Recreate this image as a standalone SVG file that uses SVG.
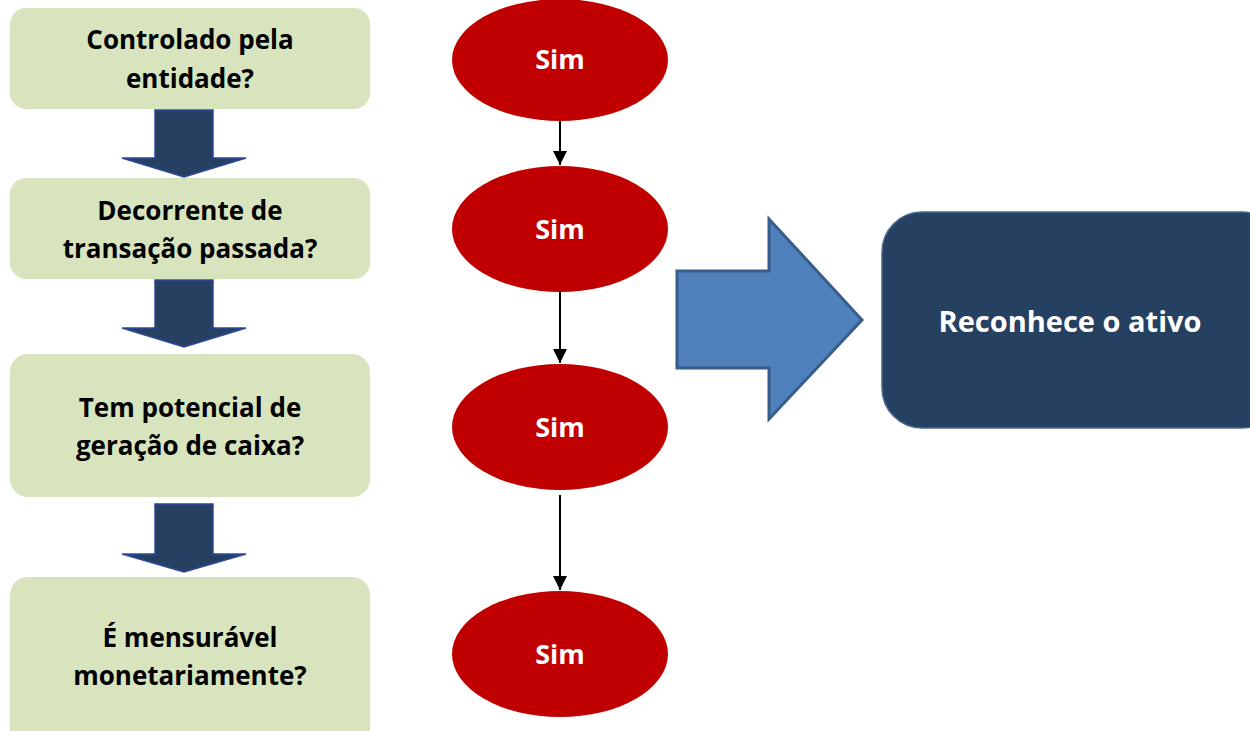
<svg xmlns="http://www.w3.org/2000/svg" width="1250" height="731" viewBox="0 0 1250 731">
<defs>
<style>
.box{fill:#D7E4BD;}
.q{font-family:"Open Sans","Liberation Sans",sans-serif;font-weight:bold;font-size:26px;fill:#000;text-anchor:middle;}
.ell{fill:#C00000;}
.sim{font-family:"Open Sans","Liberation Sans",sans-serif;font-weight:bold;font-size:27px;fill:#fff;text-anchor:middle;}
.down{fill:#264061;stroke:#2E4A9A;stroke-width:1.5;}
.conn{stroke:#000;stroke-width:2;fill:none;}
</style>
<marker id="ah" viewBox="0 0 10 10" refX="10" refY="5" markerWidth="7" markerHeight="7" markerUnits="strokeWidth" orient="auto">
<path d="M0,0 L10,5 L0,10 Z" fill="#000"/>
</marker>
</defs>
<rect width="1250" height="731" fill="#fff"/>

<g id="q1"><rect class="box" x="10" y="8" width="360" height="101" rx="16"/>
<text class="q" x="190" y="49">Controlado pela</text><text class="q" x="190" y="88">entidade?</text></g>
<g id="q2"><rect class="box" x="10" y="178" width="360" height="101" rx="16"/>
<text class="q" x="190" y="220">Decorrente de</text><text class="q" x="190" y="258">transação passada?</text></g>
<g id="q3"><rect class="box" x="10" y="354" width="360" height="143" rx="18"/>
<text class="q" x="190" y="417">Tem potencial de</text><text class="q" x="190" y="455">geração de caixa?</text></g>
<g id="q4"><rect class="box" x="10" y="577" width="360" height="170" rx="18"/>
<text class="q" x="190" y="647">É mensurável</text><text class="q" x="190" y="685">monetariamente?</text></g>

<g id="down-arrows">
<polygon class="down" points="155,110 213,110 213,158 246,158 184,177 122,158 155,158"/>
<polygon class="down" points="155,280 213,280 213,328 246,328 184,347 122,328 155,328"/>
<polygon class="down" points="155,504 213,504 213,554 246,554 184,572 122,554 155,554"/>
</g>

<g id="s1"><ellipse class="ell" cx="560" cy="60" rx="108" ry="61"/><text class="sim" x="560" y="69">Sim</text></g>
<g id="s2"><ellipse class="ell" cx="560" cy="229" rx="108" ry="63"/><text class="sim" x="560" y="239">Sim</text></g>
<g id="s3"><ellipse class="ell" cx="560" cy="427" rx="108" ry="63"/><text class="sim" x="560" y="437">Sim</text></g>
<g id="s4"><ellipse class="ell" cx="560" cy="654" rx="108" ry="63"/><text class="sim" x="560" y="664">Sim</text></g>

<g id="connectors">
<line class="conn" x1="560" y1="121" x2="560" y2="165" marker-end="url(#ah)"/>
<line class="conn" x1="560" y1="292" x2="560" y2="363" marker-end="url(#ah)"/>
<line class="conn" x1="560" y1="495" x2="560" y2="590" marker-end="url(#ah)"/>
</g>

<g id="big-arrow">
<polygon points="677,271 769,271 769,219 862,320 769,419 769,368 677,368" fill="#4F81BD" stroke="#385D8A" stroke-width="3" stroke-linejoin="miter"/>
</g>

<g id="result">
<rect x="882" y="212" width="400" height="216" rx="40" fill="#264061" stroke="#4A6A94" stroke-width="1.5"/>
<text x="1070" y="332" font-family="'Open Sans','Liberation Sans',sans-serif" font-weight="bold" font-size="29" fill="#fff" text-anchor="middle">Reconhece o ativo</text>
</g>
</svg>
